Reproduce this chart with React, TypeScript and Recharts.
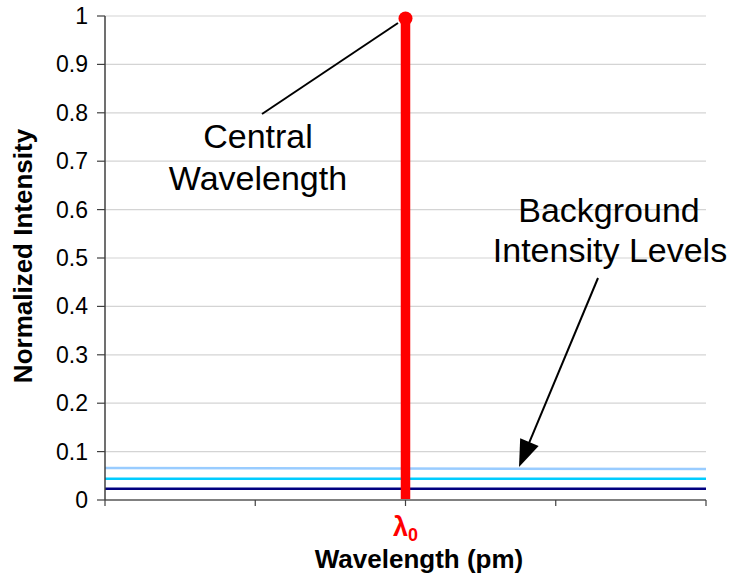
import React from 'react';
import { ComposedChart, Line, XAxis, YAxis, CartesianGrid } from 'recharts';

// ---- data ----
const xTicks = [0, 1, 2, 3, 4];
const xEnds = [0, 4];
const bgLight = [0.066, 0.064];
const bgCyan = [0.044, 0.044];
const bgNavy = [0.023, 0.023];
const peakX = [2, 2];
const peakY = [0, 0.995];
const yTicks = [0, 0.1, 0.2, 0.3, 0.4, 0.5, 0.6, 0.7, 0.8, 0.9, 1];
const yTickLabels = ['0', '0.1', '0.2', '0.3', '0.4', '0.5', '0.6', '0.7', '0.8', '0.9', '1'];
const centralTickValue = 2;
const xTitle = 'Wavelength (pm)';
const yTitle = 'Normalized Intensity';
const centralLabel = ['Central', 'Wavelength'];
const bgLabel = ['Background', 'Intensity Levels'];

const bgData = xEnds.map((x, i) => ({ x, light: bgLight[i], cyan: bgCyan[i], navy: bgNavy[i] }));
const peakData = peakX.map((x, i) => ({ x, y: peakY[i] }));

const FONT = '"Liberation Sans", Arial, sans-serif';

const XTick = (props: any) => {
  const { x, y, payload } = props;
  if (payload.value !== centralTickValue) return <g />;
  return (
    <text x={x} y={y + 28} textAnchor="middle" fill="#ff0000" fontFamily={FONT} fontWeight="bold" fontSize={27}>
      λ<tspan fontSize={18} dy={5}>0</tspan>
    </text>
  );
};

const YTick = (props: any) => {
  const { x, y, payload } = props;
  const idx = yTicks.indexOf(payload.value);
  return (
    <text x={x} y={y + 8} textAnchor="end" fill="#000" fontFamily={FONT} fontSize={23}>
      {idx >= 0 ? yTickLabels[idx] : String(payload.value)}
    </text>
  );
};

const PeakDot = (props: any) => {
  const { cx, cy, index } = props;
  if (index !== peakData.length - 1) return <g key={`d${index}`} />;
  return <circle key={`d${index}`} cx={cx} cy={cy} r={7} fill="#ff0000" stroke="none" />;
};

// arrowhead for background annotation
const arrowStart = { x: 598, y: 278 };
const arrowTip = { x: 519, y: 467 };
const arrowHead = (() => {
  const dx = arrowTip.x - arrowStart.x;
  const dy = arrowTip.y - arrowStart.y;
  const len = Math.hypot(dx, dy);
  const ux = dx / len, uy = dy / len;
  const L = 27, W = 10;
  const bx = arrowTip.x - ux * L, by = arrowTip.y - uy * L;
  return `${arrowTip.x},${arrowTip.y} ${bx - uy * W},${by + ux * W} ${bx + uy * W},${by - ux * W}`;
})();

export default function App() {
  return (
    <div style={{ position: 'absolute', left: 0, top: 0, width: 740, height: 576, background: '#fff' }}>
      <ComposedChart width={740} height={576} margin={{ top: 16, right: 34, bottom: 0, left: 0 }}>
        <CartesianGrid horizontal vertical={false} stroke="#d4d4d4" strokeWidth={1.2} />
        <XAxis
          dataKey="x"
          type="number"
          domain={[0, 4]}
          ticks={xTicks}
          height={76}
          tickSize={6}
          axisLine={{ stroke: '#808080', strokeWidth: 2 }}
          tickLine={{ stroke: '#404040', strokeWidth: 1.2 }}
          tick={<XTick />}
          interval={0}
          allowDataOverflow
        />
        <YAxis
          type="number"
          domain={[0, 1]}
          ticks={yTicks}
          width={105}
          tickSize={8}
          tickMargin={9}
          axisLine={{ stroke: '#404040', strokeWidth: 1.5 }}
          tickLine={{ stroke: '#404040', strokeWidth: 1.2 }}
          tick={<YTick />}
          interval={0}
        />
        <Line data={bgData} dataKey="light" stroke="#99ccff" strokeWidth={2.5} dot={false} isAnimationActive={false} />
        <Line data={bgData} dataKey="cyan" stroke="#00ccff" strokeWidth={2.5} dot={false} isAnimationActive={false} />
        <Line data={bgData} dataKey="navy" stroke="#000080" strokeWidth={2.5} dot={false} isAnimationActive={false} />
        <Line data={peakData} dataKey="y" stroke="#ff0000" strokeWidth={9.5} dot={<PeakDot />} isAnimationActive={false} />
      </ComposedChart>
      <svg width={740} height={576} style={{ position: 'absolute', left: 0, top: 0, pointerEvents: 'none' }}>
        <text x={23} y={256} transform="rotate(-90 23 256)" textAnchor="middle" dominantBaseline="central"
          fontFamily={FONT} fontWeight="bold" fontSize={26} fill="#000">{yTitle}</text>
        <text x={419} y={568} textAnchor="middle" fontFamily={FONT} fontWeight="bold" fontSize={26} fill="#000">{xTitle}</text>
        <line x1={262} y1={114} x2={398} y2={23} stroke="#000" strokeWidth={2} />
        <text x={258} y={148} textAnchor="middle" fontFamily={FONT} fontSize={34} fill="#000">{centralLabel[0]}</text>
        <text x={258} y={190} textAnchor="middle" fontFamily={FONT} fontSize={34} fill="#000">{centralLabel[1]}</text>
        <text x={609} y={222} textAnchor="middle" fontFamily={FONT} fontSize={34} fill="#000">{bgLabel[0]}</text>
        <text x={610} y={262} textAnchor="middle" fontFamily={FONT} fontSize={34} fill="#000">{bgLabel[1]}</text>
        <line x1={arrowStart.x} y1={arrowStart.y} x2={(arrowTip.x + arrowStart.x * 0.1) / 1.1} y2={(arrowTip.y + arrowStart.y * 0.1) / 1.1} stroke="#000" strokeWidth={2} />
        <polygon points={arrowHead} fill="#000" />
      </svg>
    </div>
  );
}
